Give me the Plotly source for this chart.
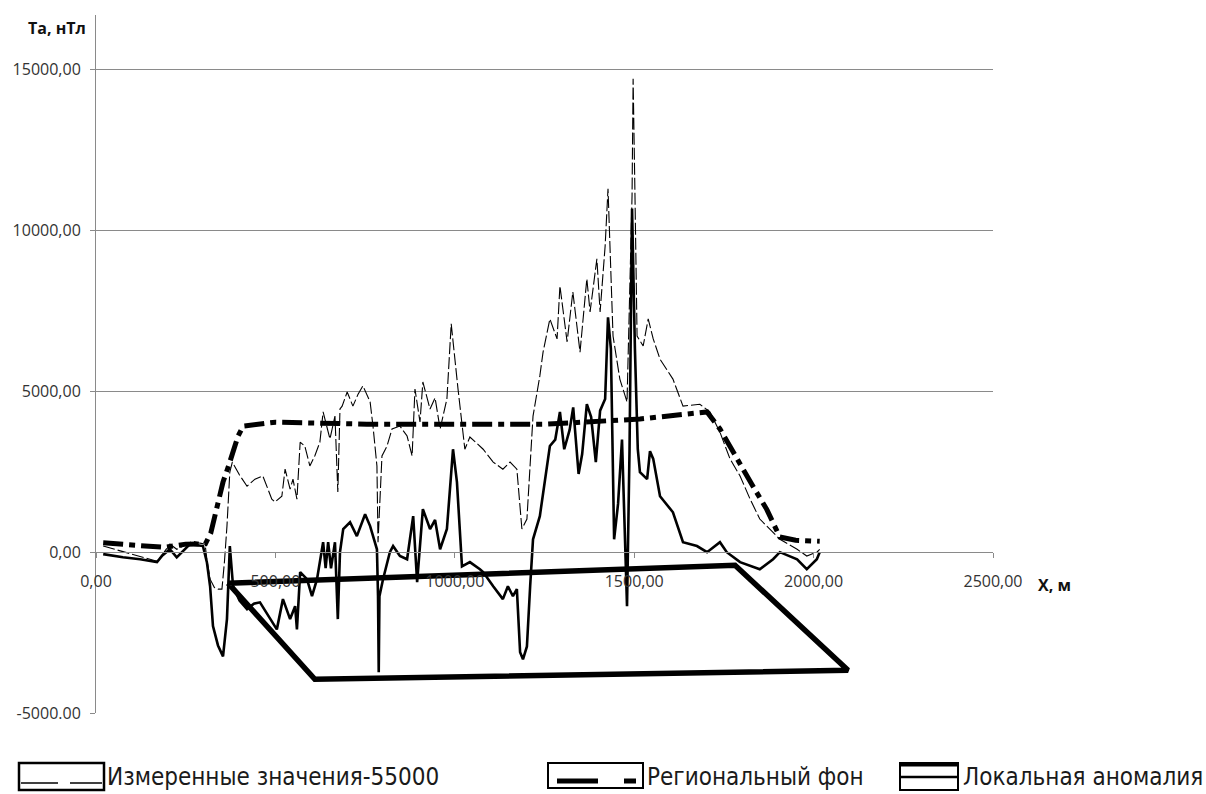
import plotly.graph_objects as go

# ---------------- data ----------------
# Measured field minus 55000 nT
MEAS_X = [20, 75, 123, 150, 170, 190, 206, 225, 245, 270, 290, 304, 309, 318, 330, 340, 351, 358,
          365, 373, 380, 400, 421, 443, 465, 490, 499, 518, 527, 541, 549, 560, 569, 582, 596, 610,
          624, 633, 652, 666, 674, 680, 686, 700, 716, 730, 744, 764, 772, 783, 786, 797, 811, 825,
          847, 867, 881, 889, 903, 911, 931, 945, 959, 978, 990, 995, 1009, 1028, 1042, 1060, 1079,
          1107, 1134, 1154, 1173, 1187, 1201, 1218, 1237, 1246, 1265, 1285, 1293, 1313, 1329, 1349,
          1368, 1377, 1396, 1405, 1419, 1427, 1433, 1441, 1460, 1480, 1494, 1497, 1502, 1508, 1525,
          1539, 1553, 1572, 1608, 1636, 1683, 1711, 1739, 1767, 1795, 1823, 1850, 1870, 1906, 1954,
          1981, 2009, 2017]
MEAS_Y = [190, 20, -120, -220, -280, 0, 250, 90, 200, 340, 280, 250, -220, -840, -1100, -1150,
          -1150, -300, 810, 2490, 2800, 2400, 2050, 2270, 2370, 1650, 1560, 1740, 2580, 1960, 2270,
          1650, 3420, 3300, 2680, 3000, 3420, 4360, 3520, 4230, 1870, 4450, 4540, 4980, 4540, 4900,
          5170, 4670, 3920, 2680, 310, 2990, 3300, 3830, 3920, 3610, 2990, 5070, 4050, 5290, 4450,
          4800, 3830, 4760, 7100, 6500, 5070, 3200, 3580, 3400, 3200, 2800, 2580, 2800, 2580, 720,
          1030, 4230, 5480, 6220, 7250, 6630, 8280, 6540, 8090, 6220, 8500, 7470, 9120, 7470, 9520,
          11300, 9120, 6720, 5380, 4670, 11080, 14720, 11200, 6720, 6410, 7250, 6630, 6000, 5380,
          4540, 4600, 4360, 3730, 2900, 2370, 1650, 1030, 810, 400, 90, -120, 0, 90]

# Regional background
REG_X = [20, 110, 190, 250, 305, 320, 337, 354, 370, 382, 396, 410, 500, 755, 1000, 1257, 1516,
         1600, 1703, 1739, 1786, 1831, 1869, 1906, 1950, 2017]
REG_Y = [290, 220, 150, 250, 260, 600, 1340, 2180, 2700, 3110, 3610, 3920, 4040, 3980, 3990, 3980,
         4140, 4250, 4360, 3830, 2900, 2050, 1340, 470, 370, 340]

# Local anomaly
ANOM_X = [20, 75, 123, 170, 185, 206, 225, 262, 298, 309, 318, 326, 340, 354, 365, 373, 382, 400,
          421, 440, 457, 485, 504, 521, 541, 555, 560, 569, 588, 602, 616, 633, 640, 647, 655, 666,
          674, 680, 689, 708, 727, 750, 764, 783, 786, 788, 790, 800, 819, 828, 847, 867, 884, 895,
          911, 931, 945, 959, 978, 995, 1006, 1020, 1042, 1070, 1079, 1107, 1134, 1148, 1162, 1173,
          1182, 1190, 1201, 1210, 1218, 1237, 1257, 1265, 1280, 1293, 1305, 1320, 1330, 1345, 1355,
          1368, 1380, 1393, 1405, 1419, 1427, 1435, 1444, 1455, 1466, 1480, 1487, 1494, 1502, 1510,
          1516, 1536, 1544, 1553, 1572, 1608, 1636, 1675, 1703, 1739, 1758, 1795, 1850, 1887, 1906,
          1954, 1981, 2009, 2017]
ANOM_Y = [-60, -160, -220, -310, -100, 90, -160, 250, 190, -310, -1060, -2300, -2900, -3240, -2080,
          190, -1060, -1500, -1770, -1600, -1560, -2080, -2400, -1460, -2080, -1680, -2400, -620,
          -840, -1370, -840, 310, -500, 310, -500, 310, -2080, 0, 720, 930, 500, 1180, 810, 90,
          -1370, -3730, -1370, -840, 0, 190, -120, -220, 1120, -930, 1340, 720, 1000, 90, 720, 3200,
          2180, -440, -310, -530, -620, -1060, -1460, -1060, -1370, -1150, -3110, -3330, -2930,
          -1060, 400, 1120, 2800, 3300, 3500, 4360, 3200, 3800, 4500, 2430, 3050, 4600, 4200, 2800,
          4400, 4760, 7300, 6320, 400, 1500, 3500, -1680, 3200, 10680, 6320, 3200, 2490, 2270, 3140,
          2900, 1740, 1240, 310, 190, 0, 310, 0, -310, -530, -220, 0, -220, -530, -220, 0]

# Outline frame drawn under the profile
FRAME_X = [368, 1781, 2096, 610, 368]
FRAME_Y = [-965, -405, -3673, -3953, -965]

X_TICKS = [0, 500, 1000, 1500, 2000, 2500]
X_TICKTEXT = ["0,00", "500,00", "1000,00", "1500,00", "2000,00", "2500,00"]
Y_TICKS = [-5000, 0, 5000, 10000, 15000]
Y_TICKTEXT = ["-5000.00", "0,00", "5000,00", "10000,00", "15000,00"]

LEGEND_LABELS = ["Измеренные значения-55000", "Региональный фон", "Локальная аномалия"]

# ---------------- layout helpers ----------------
W, H = 1206, 794
L, R, T, B = 96, 993, 15, 713
Y_MIN, Y_MAX = -5000, 16700


def fx(p):
    return (p - L) / (R - L)


def fy(p):
    return (B - p) / (B - T)


TICK_FONT = dict(family="Open Sans, Noto Sans, sans-serif", size=16, color="#333333")
LEG_FONT = dict(family="DejaVu Sans Condensed, Liberation Sans Narrow, sans-serif", size=24,
                color="#1a1a1a")
GRID = "#8a8a8a"

fig = go.Figure()

fig.add_trace(go.Scatter(x=MEAS_X, y=MEAS_Y, mode="lines", name=LEGEND_LABELS[0],
                         line=dict(color="black", width=1.1, dash="12px,3px")))
fig.add_trace(go.Scatter(x=REG_X, y=REG_Y, mode="lines", name=LEGEND_LABELS[1],
                         line=dict(color="black", width=5, dash="20px,6px,6px,6px")))
fig.add_trace(go.Scatter(x=ANOM_X, y=ANOM_Y, mode="lines", name=LEGEND_LABELS[2],
                         line=dict(color="black", width=2.6)))
fig.add_trace(go.Scatter(x=FRAME_X, y=FRAME_Y, mode="lines", showlegend=False,
                         line=dict(color="black", width=5.5)))

shapes = []
annotations = []

# legend symbols (boxed line samples) and labels
# entry 1: measured
shapes.append(dict(type="rect", xref="paper", yref="paper", x0=fx(19), x1=fx(104), y0=fy(790),
                   y1=fy(763), line=dict(color="black", width=2.5)))
shapes.append(dict(type="line", xref="paper", yref="paper", x0=fx(21), x1=fx(58), y0=fy(783),
                   y1=fy(783), line=dict(color="black", width=1.5)))
shapes.append(dict(type="line", xref="paper", yref="paper", x0=fx(70), x1=fx(102), y0=fy(783),
                   y1=fy(783), line=dict(color="black", width=1.5)))
# entry 2: regional
shapes.append(dict(type="rect", xref="paper", yref="paper", x0=fx(548), x1=fx(643), y0=fy(788),
                   y1=fy(763), line=dict(color="black", width=2)))
shapes.append(dict(type="line", xref="paper", yref="paper", x0=fx(557), x1=fx(598), y0=fy(781),
                   y1=fy(781), line=dict(color="black", width=5)))
shapes.append(dict(type="line", xref="paper", yref="paper", x0=fx(624), x1=fx(636), y0=fy(781),
                   y1=fy(781), line=dict(color="black", width=5)))
# entry 3: local anomaly
shapes.append(dict(type="rect", xref="paper", yref="paper", x0=fx(900), x1=fx(958), y0=fy(790),
                   y1=fy(763), line=dict(color="black", width=2)))
shapes.append(dict(type="line", xref="paper", yref="paper", x0=fx(900), x1=fx(958), y0=fy(765),
                   y1=fy(765), line=dict(color="black", width=3)))
shapes.append(dict(type="line", xref="paper", yref="paper", x0=fx(900), x1=fx(958), y0=fy(777),
                   y1=fy(777), line=dict(color="black", width=2.5)))

for label, x0 in zip(LEGEND_LABELS, [105, 645, 961]):
    annotations.append(dict(text=label, xref="paper", yref="paper", x=fx(x0), y=fy(777),
                            xanchor="left", yanchor="middle", showarrow=False, font=LEG_FONT))

# axis titles
annotations.append(dict(text="<b>Та, нТл</b>", xref="paper", yref="paper", x=fx(88), y=fy(28),
                        xanchor="right", yanchor="middle", showarrow=False,
                        font=dict(family="Open Sans, sans-serif", size=16, color="#111")))
annotations.append(dict(text="<b>X, м</b>", xref="paper", yref="paper", x=fx(1036), y=fy(585),
                        xanchor="left", yanchor="middle", showarrow=False,
                        font=dict(family="Open Sans, sans-serif", size=16, color="#111")))

fig.update_layout(
    width=W, height=H,
    margin=dict(l=L, r=W - R, t=T, b=H - B, pad=0),
    paper_bgcolor="white", plot_bgcolor="white",
    showlegend=False,
    shapes=shapes, annotations=annotations,
    xaxis=dict(range=[0, 2500], anchor="free", position=(0 - Y_MIN) / (Y_MAX - Y_MIN),
               showgrid=False, zeroline=False, showline=True, linecolor=GRID, linewidth=1,
               ticks="outside", ticklen=5, tickcolor=GRID, tickvals=X_TICKS,
               ticktext=X_TICKTEXT, tickfont=TICK_FONT, ticklabelstandoff=10),
    yaxis=dict(range=[Y_MIN, Y_MAX], domain=[0, 1], showgrid=True, gridcolor=GRID, gridwidth=1,
               zeroline=False, showline=True, linecolor=GRID, linewidth=1,
               ticks="outside", ticklen=5, tickcolor=GRID, tickvals=Y_TICKS,
               ticktext=Y_TICKTEXT, tickfont=TICK_FONT, ticklabelstandoff=6),
)

fig.write_html("out.html")
